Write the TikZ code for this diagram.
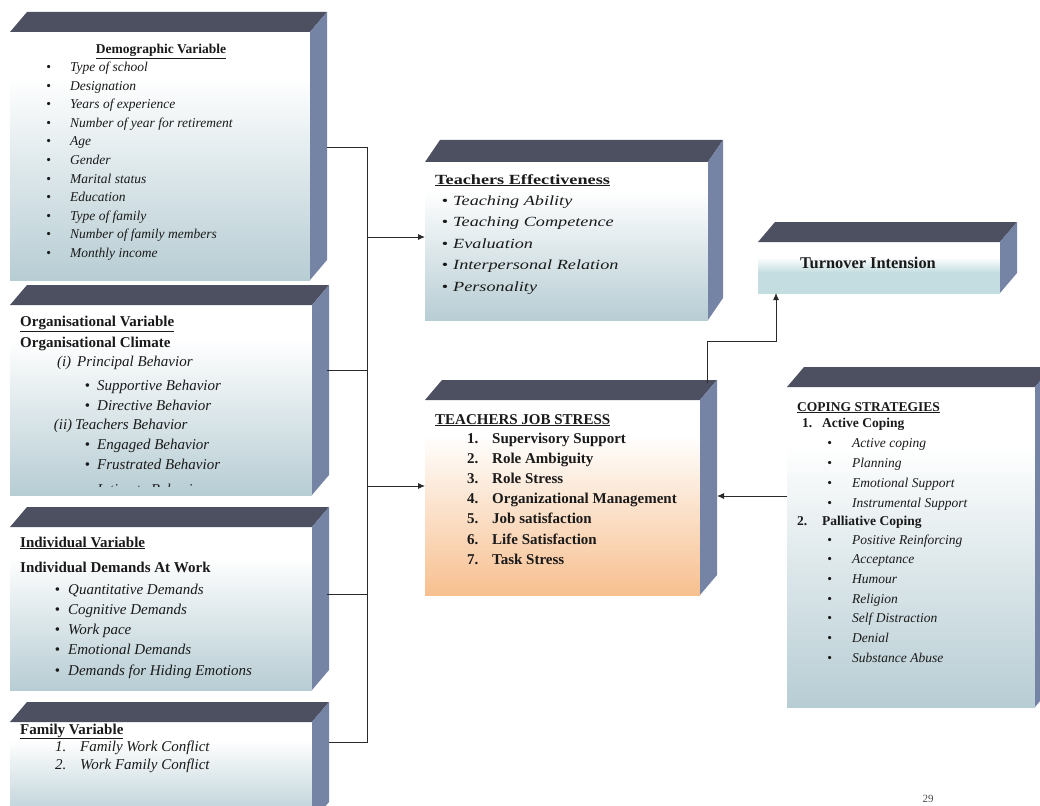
\documentclass[tikz,border=0pt]{standalone}
\usepackage{fontspec}
\setmainfont{Liberation Serif}
\newfontfamily\tefont[FakeStretch=1.3]{Liberation Serif}
\usetikzlibrary{arrows.meta}
\definecolor{topc}{HTML}{4D5061}
\definecolor{sidec}{HTML}{7583A5}
\definecolor{fb}{HTML}{B7CDD4}
\colorlet{fbm}{fb!45!white}
\definecolor{fp}{HTML}{F7C090}
\colorlet{fpm}{fp!45!white}
\definecolor{ft}{HTML}{C4DDE0}
\definecolor{txtc}{HTML}{1A1A1A}
\definecolor{linec}{HTML}{2A2A2A}
\pgfdeclareverticalshading{bluefade}{100bp}{color(0bp)=(fb); color(25bp)=(fb); color(48bp)=(fbm); color(66bp)=(white); color(100bp)=(white)}
\pgfdeclareverticalshading{peachfade}{100bp}{color(0bp)=(fp); color(25bp)=(fp); color(48bp)=(fpm); color(66bp)=(white); color(100bp)=(white)}
\pgfdeclareverticalshading{tofade}{100bp}{color(0bp)=(ft); color(25bp)=(ft); color(45bp)=(ft); color(60bp)=(white); color(100bp)=(white)}
\tikzset{
  face/.style={inner sep=0pt, outer sep=0pt, anchor=north west, shade},
  topband/.style={fill=topc},
  sideband/.style={fill=sidec},
  txt/.style={anchor=base west, inner sep=0pt, text=txtc},
  conn/.style={draw=linec, line width=0.9pt},
  arr/.style={conn, -{Latex[length=7pt,width=6pt]}},
}
\newcommand{\boxdepth}[3]{%
  \fill[topband] (#1.north west) -- ++(#2,-#3) -- ([shift={(#2,-#3)}]#1.north east) -- (#1.north east) -- cycle;
  \fill[sideband] (#1.north east) -- ++(#2,-#3) -- ([shift={(#2,-#3)}]#1.south east) -- (#1.south east) -- cycle;
}
\begin{document}
\begin{tikzpicture}[x=1pt,y=-1pt]
\clip (0,0) rectangle (1040,805);
\fill[white] (0,0) rectangle (1040,805);

% ---------- boxes ----------
\node[face, shading=bluefade, minimum width=300pt, minimum height=248pt] (demo) at (10,32) {};
\boxdepth{demo}{17}{20}
\node[face, shading=bluefade, minimum width=302pt, minimum height=190pt] (org) at (10,305) {};
\boxdepth{org}{17}{20}
\node[face, shading=bluefade, minimum width=302pt, minimum height=163pt] (ind) at (10,527) {};
\boxdepth{ind}{17}{20}
\node[face, shading=bluefade, minimum width=302pt, minimum height=100pt] (fam) at (10,722) {};
\boxdepth{fam}{17}{20}
\node[face, shading=bluefade, minimum width=283pt, minimum height=158pt] (te) at (425,162) {};
\boxdepth{te}{15}{22}
\node[face, shading=peachfade, minimum width=275pt, minimum height=195pt] (js) at (425,400) {};
\boxdepth{js}{17}{20}
\node[face, shading=tofade, minimum width=242pt, minimum height=51pt] (to) at (758,242) {};
\boxdepth{to}{17}{20}
\node[face, shading=bluefade, minimum width=248pt, minimum height=320pt] (cs) at (787,387) {};
\boxdepth{cs}{17}{20}

% ---------- Demographic ----------
\node[txt, anchor=base, font=\fontsize{13.5}{15}\selectfont\bfseries] (demoh) at (161,54) {\underline{Demographic Variable}};
\foreach \t [count=\i] in {Type of school, Designation, Years of experience, Number of year for retirement, Age, Gender, Marital status, Education, Type of family, Number of family members, Monthly income}
  \node[txt, font=\fontsize{13.5}{15}\selectfont\itshape] (demo\i) at (70,{72+18.5*(\i-1)}) {\llap{\upshape\textbullet\hspace{19pt}}\t};

% ---------- Organisational ----------
\node[txt, font=\fontsize{15}{17}\selectfont\bfseries] (orgh) at (20,326) {\underline{Organisational Variable}};
\node[txt, font=\fontsize{15}{17}\selectfont\bfseries] (orgc) at (20,347) {Organisational Climate};
\node[txt, font=\fontsize{15}{17}\selectfont\itshape] (orgp) at (77,366) {\llap{(i)\hspace{6pt}}Principal Behavior};
\node[txt, font=\fontsize{15}{17}\selectfont\itshape] (orgs) at (97,390) {\llap{\upshape\textbullet\hspace{7pt}}Supportive Behavior};
\node[txt, font=\fontsize{15}{17}\selectfont\itshape] (orgd) at (97,410) {\llap{\upshape\textbullet\hspace{7pt}}Directive Behavior};
\node[txt, font=\fontsize{15}{17}\selectfont\itshape] (orgt) at (75,429) {\llap{(ii)\hspace{3pt}}Teachers Behavior};
\node[txt, font=\fontsize{15}{17}\selectfont\itshape] (orge) at (97,449) {\llap{\upshape\textbullet\hspace{7pt}}Engaged Behavior};
\node[txt, font=\fontsize{15}{17}\selectfont\itshape] (orgf) at (97,469) {\llap{\upshape\textbullet\hspace{7pt}}Frustrated Behavior};
\begin{scope}
  \clip (10,470) rectangle (312,486);
  \node[txt, font=\fontsize{15}{17}\selectfont\itshape] (orgi) at (97,494) {\llap{\upshape\textbullet\hspace{7pt}}Intimate Behavior};
\end{scope}

% ---------- Individual ----------
\node[txt, font=\fontsize{15}{17}\selectfont\bfseries] (indh) at (20,547) {\underline{Individual Variable}};
\node[txt, font=\fontsize{15}{17}\selectfont\bfseries] (indd) at (20,572) {Individual Demands At Work};
\foreach \t [count=\i] in {Quantitative Demands, Cognitive Demands, Work pace, Emotional Demands, Demands for Hiding Emotions}
  \node[txt, font=\fontsize{15}{17}\selectfont\itshape] (ind\i) at (68,{594+20.3*(\i-1)}) {\llap{\upshape\textbullet\hspace{8pt}}\t};

% ---------- Family ----------
\node[txt, font=\fontsize{15}{17}\selectfont\bfseries] (famh) at (20,734) {\underline{Family Variable}};
\node[txt, font=\fontsize{15}{17}\selectfont\itshape] (fam1) at (80,751) {\llap{\makebox[25pt][l]{1.}}Family Work Conflict};
\node[txt, font=\fontsize{15}{17}\selectfont\itshape] (fam2) at (80,769) {\llap{\makebox[25pt][l]{2.}}Work Family Conflict};

% ---------- Teachers Effectiveness ----------
\node[txt, font=\tefont\fontsize{14}{16}\selectfont\bfseries] (teh) at (435,184) {\underline{Teachers Effectiveness}};
\foreach \t [count=\i] in {Teaching Ability, Teaching Competence, Evaluation, Interpersonal Relation, Personality}
  \node[txt, font=\tefont\fontsize{14}{16}\selectfont\itshape] (te\i) at (453,{205+21.5*(\i-1)}) {\llap{\upshape\textbullet\hspace{5pt}}\t};

% ---------- Teachers Job Stress ----------
\node[txt, font=\fontsize{15}{17}\selectfont\bfseries] (jsh) at (435,424) {\underline{TEACHERS JOB STRESS}};
\foreach \t [count=\i] in {Supervisory Support, Role Ambiguity, Role Stress, Organizational Management, Job satisfaction, Life Satisfaction, Task Stress}
  \node[txt, font=\fontsize{15}{17}\selectfont\bfseries] (js\i) at (492,{443+20.2*(\i-1)}) {\llap{\makebox[25pt][l]{\i.}}\t};

% ---------- Turnover ----------
\node[txt, font=\fontsize{16.4}{18}\selectfont\bfseries] (toh) at (800,268) {Turnover Intension};

% ---------- Coping ----------
\node[txt, font=\fontsize{13.5}{15}\selectfont\bfseries] (csh) at (797,411) {\underline{COPING STRATEGIES}};
\node[txt, font=\fontsize{13.5}{15}\selectfont\bfseries] (csa) at (822,427) {\llap{\makebox[20pt][l]{1.}}Active Coping};
\foreach \t [count=\i] in {Active coping, Planning, Emotional Support, Instrumental Support}
  \node[txt, font=\fontsize{13.5}{15}\selectfont\itshape] (csa\i) at (852,{447+20*(\i-1)}) {\llap{\upshape\textbullet\hspace{20pt}}\t};
\node[txt, font=\fontsize{13.5}{15}\selectfont\bfseries] (csp) at (822,525) {\llap{\makebox[25pt][l]{2.}}Palliative Coping};
\foreach \t [count=\i] in {Positive Reinforcing, Acceptance, Humour, Religion, Self Distraction, Denial, Substance Abuse}
  \node[txt, font=\fontsize{13.5}{15}\selectfont\itshape] (csp\i) at (852,{544+19.7*(\i-1)}) {\llap{\upshape\textbullet\hspace{20pt}}\t};

% ---------- page number ----------
\node[txt, anchor=base, font=\fontsize{11}{13}\selectfont, text=black!70] (pg) at (928,802) {29};

% ---------- connectors ----------
\coordinate (s1) at (327,147); \coordinate (j1) at (367,147);
\coordinate (s2) at (327,370); \coordinate (j2) at (367,370);
\coordinate (s3) at (327,594); \coordinate (j3) at (367,594);
\coordinate (s4) at (329,742); \coordinate (j4) at (367,742);
\draw[conn] (s1) -- (j1) -- (j4) -- (s4);
\draw[conn] (s2) -- (j2);
\draw[conn] (s3) -- (j3);
\coordinate (a1) at (367,237);
\draw[arr] (a1) -- (a1 -| te.west);
\coordinate (a2) at (367,486);
\draw[arr] (a2) -- (a2 -| js.west);
\coordinate (c1) at (717,496);
\draw[arr] (c1 -| cs.west) -- (c1);
\coordinate (u1) at (707,383); \coordinate (u2) at (776,341);
\draw[arr] (u1) -- (u1 |- u2) -- (u2) -- (u2 |- to.south);
\end{tikzpicture}
\end{document}
